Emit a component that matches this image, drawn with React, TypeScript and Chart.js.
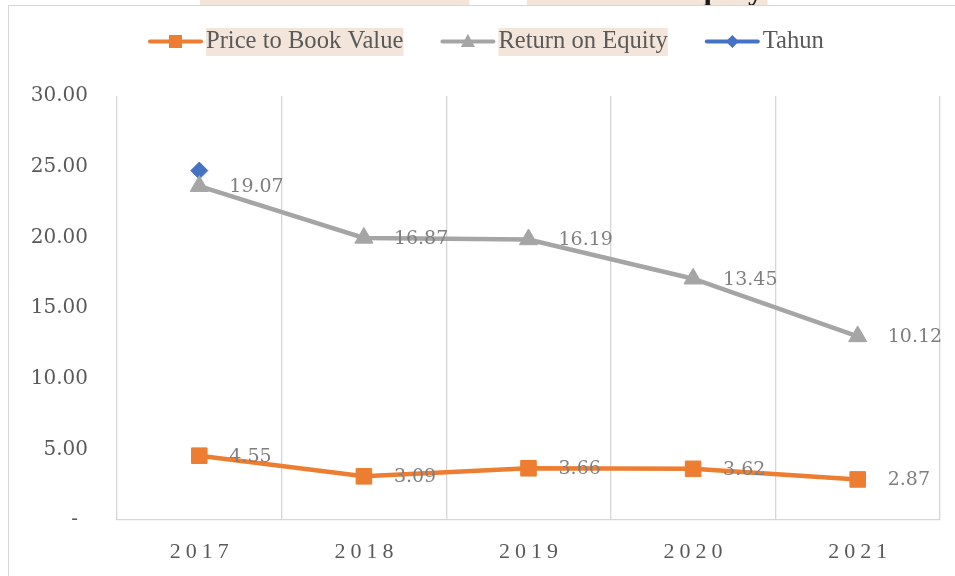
import React, { useEffect, useRef } from 'react';
import { Chart, registerables } from 'chart.js';

Chart.register(...registerables);

const years = ['2017', '2018', '2019', '2020', '2021'];
const priceToBook = [4.55, 3.09, 3.66, 3.62, 2.87];
const returnOnEquity = [19.07, 16.87, 16.19, 13.45, 10.12];
const tahun: (number | null)[] = [1.1, null, null, null, null];
const seriesNames = ['Price to Book Value', 'Return on Equity', 'Tahun'];
const titleParts = ['Price to Book Value', ' dan ', 'Return on Equity'];
const yMin = 0;
const yMax = 30;
const yStep = 5;

const ORANGE = '#ED7D31';
const GRAY = '#A5A5A5';
const BLUE = '#4472C4';
const BEIGE = '#F3E5DA';
const GRID = '#D6D6D6';
const TEXT = '#595959';
const LABEL = '#7F7F7F';

function drawMarker(ctx: CanvasRenderingContext2D, style: string, x: number, y: number, s: number, color: string) {
  ctx.save();
  ctx.fillStyle = color;
  ctx.beginPath();
  if (style === 'rect') {
    ctx.rect(x - s / 2, y - s / 2, s, s);
  } else if (style === 'triangle') {
    ctx.moveTo(x, y - s * 0.55);
    ctx.lineTo(x + s / 2, y + s * 0.4);
    ctx.lineTo(x - s / 2, y + s * 0.4);
    ctx.closePath();
  } else {
    ctx.moveTo(x, y - s / 2);
    ctx.lineTo(x + s / 2, y);
    ctx.lineTo(x, y + s / 2);
    ctx.lineTo(x - s / 2, y);
    ctx.closePath();
  }
  ctx.fill();
  ctx.restore();
}

const decorPlugin = {
  id: 'decor',
  beforeDraw(chart: any) {
    const ctx: CanvasRenderingContext2D = chart.ctx;
    ctx.save();
    // cut-off title
    ctx.font = 'bold 31px "Liberation Serif"';
    ctx.textBaseline = 'alphabetic';
    ctx.textAlign = 'left';
    let x = 204;
    titleParts.forEach((p, i) => {
      const w = ctx.measureText(p).width;
      if (i !== 1) {
        ctx.fillStyle = BEIGE;
        ctx.fillRect(x - 4, -40, w + 8, 45);
      }
      ctx.fillStyle = '#1a1a1a';
      ctx.fillText(p, x, -1.5);
      x += w;
    });
    // outer border
    ctx.strokeStyle = GRID;
    ctx.lineWidth = 1;
    ctx.beginPath();
    ctx.moveTo(8.5, 576);
    ctx.lineTo(8.5, 5.5);
    ctx.lineTo(955, 5.5);
    ctx.stroke();
    ctx.restore();
  },
  afterDraw(chart: any) {
    const ctx: CanvasRenderingContext2D = chart.ctx;
    ctx.save();
    // legend
    const colors = [ORANGE, GRAY, BLUE];
    const styles = ['rect', 'triangle', 'rectRot'];
    const sizes = [13, 14, 13];
    const highlight = [true, true, false];
    ctx.font = '24.6px "Liberation Serif"';
    ctx.textBaseline = 'middle';
    ctx.textAlign = 'left';
    let lx = 148;
    const ly = 41.5;
    seriesNames.forEach((name, i) => {
      ctx.strokeStyle = colors[i];
      ctx.lineWidth = 4;
      ctx.lineCap = 'round';
      ctx.beginPath();
      ctx.moveTo(lx + 2, ly);
      ctx.lineTo(lx + 53, ly);
      ctx.stroke();
      drawMarker(ctx, styles[i], lx + 27.5, ly, sizes[i], colors[i]);
      const tx = lx + 58;
      const w = ctx.measureText(name).width;
      if (highlight[i]) {
        ctx.fillStyle = BEIGE;
        ctx.fillRect(tx, 28, w, 28);
      }
      ctx.fillStyle = TEXT;
      ctx.fillText(name, tx, 42);
      lx = tx + w + 37;
    });
    // x labels with letter spacing
    const xs = chart.scales.x;
    ctx.font = '22px "Liberation Serif"';
    (ctx as any).letterSpacing = '5px';
    ctx.textAlign = 'center';
    ctx.fillStyle = TEXT;
    years.forEach((yr, i) => {
      ctx.fillText(yr, xs.getPixelForValue(i) + 2.5, 552);
    });
    (ctx as any).letterSpacing = '0px';
    ctx.restore();
  },
  afterDatasetsDraw(chart: any) {
    const ctx: CanvasRenderingContext2D = chart.ctx;
    ctx.save();
    ctx.font = '19px "DejaVu Serif"';
    ctx.fillStyle = LABEL;
    ctx.textAlign = 'left';
    ctx.textBaseline = 'middle';
    [0, 1].forEach((di) => {
      const meta = chart.getDatasetMeta(di);
      const data = chart.data.datasets[di].data;
      meta.data.forEach((pt: any, j: number) => {
        const v = data[j];
        if (v == null) return;
        ctx.fillText(Number(v).toFixed(2), pt.x + 30, pt.y + 1);
      });
    });
    ctx.restore();
  },
};

export default function App() {
  const ref = useRef<HTMLCanvasElement>(null);
  useEffect(() => {
    const canvas = ref.current!;
    const chart = new Chart(canvas, {
      type: 'line',
      data: {
        labels: years,
        datasets: [
          {
            label: seriesNames[0],
            data: priceToBook,
            borderColor: ORANGE,
            backgroundColor: ORANGE,
            borderWidth: 4.5,
            pointStyle: 'rect',
            pointRadius: 11,
            pointBorderWidth: 1,
            tension: 0,
            fill: false,
          },
          {
            label: seriesNames[1],
            data: returnOnEquity,
            borderColor: GRAY,
            backgroundColor: GRAY,
            borderWidth: 4.5,
            pointStyle: 'triangle',
            pointRadius: 10.5,
            pointBorderWidth: 1,
            tension: 0,
            fill: false,
          },
          {
            label: seriesNames[2],
            data: tahun,
            borderColor: BLUE,
            backgroundColor: BLUE,
            borderWidth: 4.5,
            pointStyle: 'rectRot',
            pointRadius: 8.5,
            pointBorderWidth: 1,
            tension: 0,
            fill: false,
          },
        ],
      },
      options: {
        responsive: false,
        devicePixelRatio: 1,
        animation: false,
        events: [],
        layout: { padding: { top: 96, right: 15, left: 0, bottom: 0 }, autoPadding: false },
        plugins: { legend: { display: false }, tooltip: { enabled: false }, title: { display: false } },
        scales: {
          x: {
            offset: true,
            grid: { display: true, offset: true, color: GRID, lineWidth: 1.3, drawTicks: false },
            border: { display: true, color: GRID, width: 1.3 },
            ticks: { display: false },
            afterFit(scale: any) {
              scale.height = 56;
            },
          },
          y: {
            stacked: true,
            min: yMin,
            max: yMax,
            grid: { display: false, drawTicks: false },
            border: { display: false },
            ticks: {
              stepSize: yStep,
              padding: 29,
              color: TEXT,
              font: { family: '"DejaVu Serif"', size: 20 },
              callback: (v: any) => (Number(v) === 0 ? '-\u2002' : Number(v).toFixed(2)),
            },
            afterFit(scale: any) {
              scale.width = 117;
            },
          },
        },
      },
      plugins: [decorPlugin],
    } as any);
    return () => chart.destroy();
  }, []);
  return (
    <div style={{ position: 'fixed', left: 0, top: 0, width: 955, height: 576, background: '#fff' }}>
      <canvas ref={ref} width={955} height={576} style={{ display: 'block', width: 955, height: 576 }} />
    </div>
  );
}
